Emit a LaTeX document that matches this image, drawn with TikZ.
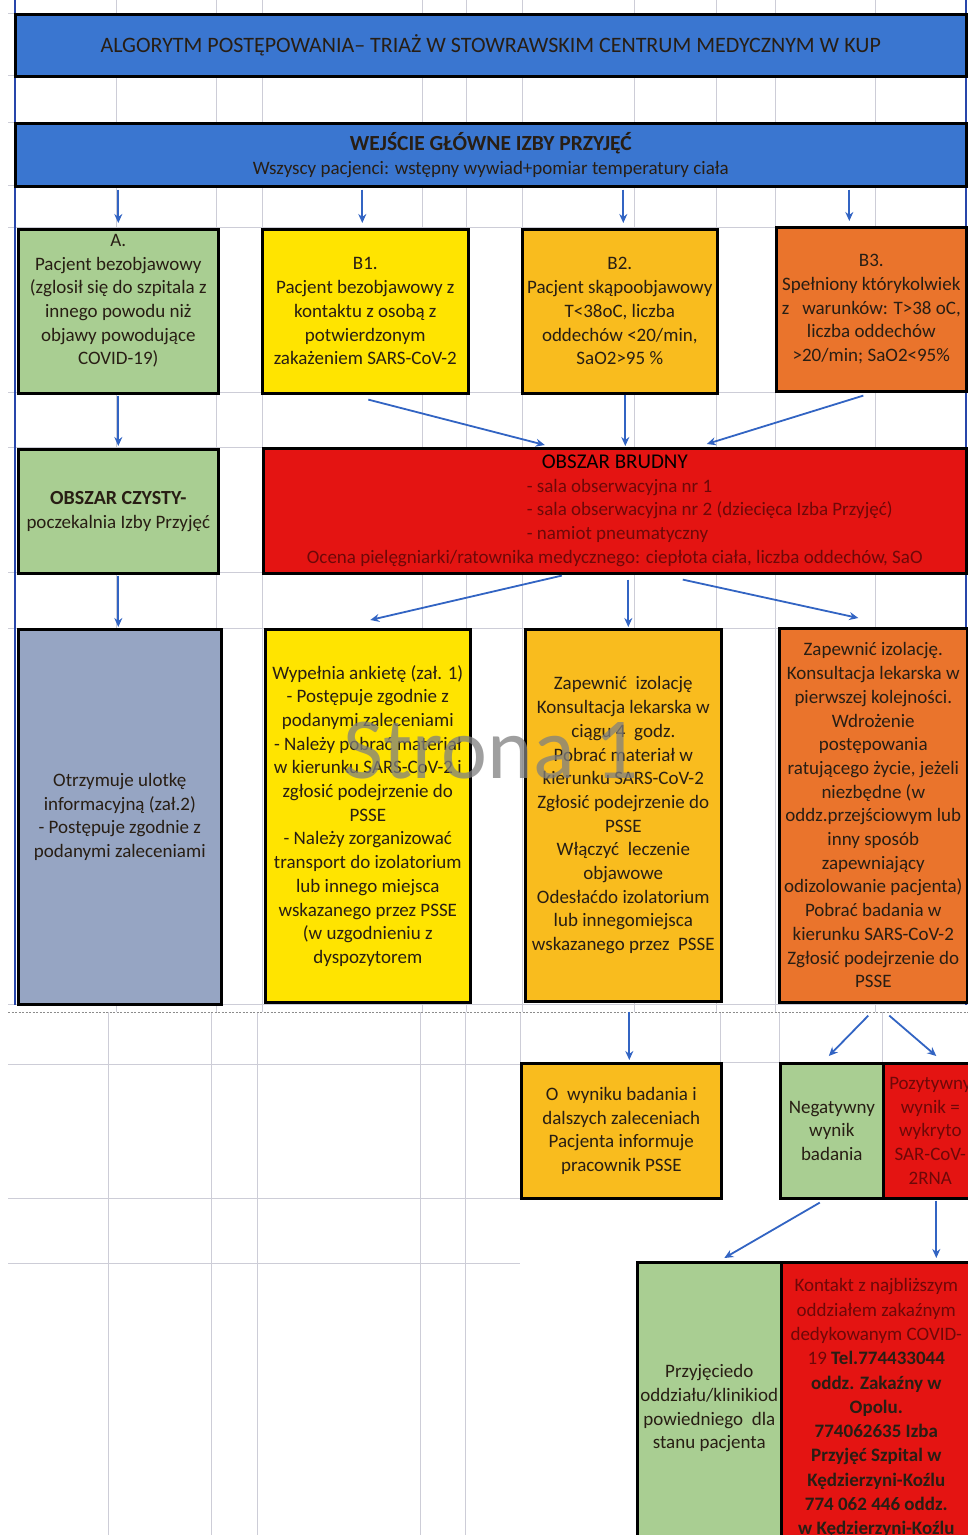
\documentclass[tikz,border=0pt]{standalone}
\usepackage{fontspec}
\setmainfont{Carlito}
\usetikzlibrary{arrows.meta,calc}
\definecolor{hdrblue}{RGB}{58,118,208}
\definecolor{grn}{RGB}{169,206,146}
\definecolor{yel}{RGB}{255,228,0}
\definecolor{amb}{RGB}{249,188,30}
\definecolor{org}{RGB}{234,116,44}
\definecolor{rd}{RGB}{228,20,18}
\definecolor{gry}{RGB}{150,165,195}
\definecolor{txtc}{RGB}{40,30,20}
\definecolor{drd}{RGB}{110,8,8}
\definecolor{arrblue}{RGB}{50,100,195}
\definecolor{gridc}{RGB}{205,205,215}
\definecolor{edgeblue}{RGB}{40,70,170}
\tikzset{
  box/.style={draw=black, line width=2.6pt, anchor=north west, inner sep=0pt,
    align=center, text=txtc, font=\fontsize{19}{23.7}\selectfont},
  arr/.style={-{Stealth[length=9pt,width=8pt]}, line width=1.8pt, draw=arrblue},
  gridl/.style={draw=gridc, line width=0.6pt},
  wmark/.style={font=\fontsize{87}{87}\selectfont, text=black!50, opacity=0.75, anchor=base}
}
\begin{document}
\begin{tikzpicture}[x=1pt,y=-1pt]
\useasboundingbox (0,0) rectangle (968,1535);
\clip (0,0) rectangle (968,1535);
\fill[white] (0,0) rectangle (968,1535);
% spreadsheet grid
\foreach \x in {116,216,262,422,466,522,634,716,775,875}
  \draw[gridl] (\x,0) -- (\x,1012);
\foreach \y in {13,75,122,185,227,392,447,572,628,1004}
  \draw[gridl] (8,\y) -- (968,\y);
\foreach \x in {108,211,257,420,465}
  \draw[gridl] (\x,1012) -- (\x,1535);
\draw[gridl] (520,1012) -- (520,1198);
\foreach \x in {720,779,882}
  \draw[gridl] (\x,1012) -- (\x,1062);
\foreach \y in {1064,1198,1263}
  \draw[gridl] (8,\y) -- (520,\y);
\draw[gridl] (720,1062) -- (779,1062);
\draw[draw=black!45, line width=0.8pt, dash pattern=on 2pt off 1.5pt] (8,1012) -- (968,1012);
\draw[edgeblue, line width=1.2pt] (15,0) -- (15,1005);
\draw[edgeblue, line width=1.2pt] (966,0) -- (966,1005);

% headers
\node[box, fill=hdrblue, minimum width=951pt, minimum height=62pt,
  font=\fontsize{22}{24}\selectfont] (title) at (14,13)
  {ALGORYTM POSTĘPOWANIA– TRIAŻ W STOWRAWSKIM CENTRUM MEDYCZNYM W KUP};
\node[box, fill=hdrblue, minimum width=951pt, minimum height=63pt, font=\fontsize{19}{24}\selectfont] (hdr) at (14,122)
  {{\bfseries\fontsize{21.5}{24}\selectfont WEJŚCIE GŁÓWNE IZBY PRZYJĘĆ}\\
   Wszyscy pacjenci: wstępny wywiad+pomiar temperatury ciała};

% first row
\node[box, fill=grn, minimum width=200pt, minimum height=164pt] (A) at (17,228)
  {A.\\Pacjent bezobjawowy\\(zglosił się do szpitala z\\innego powodu niż\\objawy powodujące\\COVID-19)\\\mbox{}};
\node[box, fill=yel, minimum width=206pt, minimum height=164pt] (B1) at (261,228)
  {B1.\\Pacjent bezobjawowy z\\kontaktu z osobą z\\potwierdzonym\\zakażeniem SARS-CoV-2};
\node[box, fill=amb, minimum width=195pt, minimum height=164pt] (B2) at (521,228)
  {B2.\\Pacjent skąpoobjawowy\\T<38oC, liczba\\oddechów <20/min,\\SaO2>95 \%};
\node[box, fill=org, minimum width=190pt, minimum height=164pt] (B3) at (775,226)
  {B3.\\Spełniony którykolwiek\\z\ \ \ warunków: T>38 oC,\\liczba oddechów\\>20/min; SaO2<95\%};

% second row
\node[box, fill=grn, minimum width=200pt, minimum height=124pt] (CZ) at (17,448)
  {{\bfseries\fontsize{20}{23.7}\selectfont OBSZAR CZYSTY-}\\poczekalnia Izby Przyjęć};
\node[box, fill=rd, minimum width=703pt, minimum height=125pt, text=drd] (BR) at (262,447)
  {{\fontsize{21}{23.7}\selectfont\color{black}OBSZAR BRUDNY}\\
   \makebox[176pt][l]{- sala obserwacyjna nr 1}\\
   \makebox[176pt][l]{- sala obserwacyjna nr 2 (dziecięca Izba Przyjęć)}\\
   \makebox[176pt][l]{- namiot pneumatyczny}\\
   Ocena pielęgniarki/ratownika medycznego: ciepłota ciała, liczba oddechów, SaO};

% third row
\node[box, fill=gry, minimum width=203pt, minimum height=375pt] (G) at (17,628)
  {Otrzymuje ulotkę\\informacyjną (zał.2)\\- Postępuje zgodnie z\\podanymi zaleceniami};
\node[box, fill=yel, minimum width=205pt, minimum height=373pt] (Y2) at (264,628)
  {Wypełnia ankietę (zał. 1)\\- Postępuje zgodnie z\\podanymi zaleceniami\\- Należy pobrać materiał\\w kierunku SARS-CoV-2 i\\zgłosić podejrzenie do\\PSSE\\- Należy zorganizować\\transport do izolatorium\\lub innego miejsca\\wskazanego przez PSSE\\(w uzgodnieniu z\\dyspozytorem};
\node[box, fill=amb, minimum width=196pt, minimum height=372pt] (AM2) at (524,628)
  {Zapewnić\ \ izolację\\Konsultacja lekarska w\\ciągu 4\ \ godz.\\Pobrać materiał w\\kierunku SARS-CoV-2\\Zgłosić podejrzenie do\\PSSE\\Włączyć\ \ leczenie\\objawowe\\Odesłaćdo izolatorium\\lub innegomiejsca\\wskazanego przez\ \ PSSE};
\node[box, fill=org, minimum width=188pt, minimum height=374pt] (OR2) at (778,627)
  {Zapewnić izolację.\\Konsultacja lekarska w\\pierwszej kolejności.\\Wdrożenie\\postępowania\\ratującego życie, jeżeli\\niezbędne (w\\oddz.przejściowym lub\\inny sposób\\zapewniający\\odizolowanie pacjenta)\\Pobrać badania w\\kierunku SARS-CoV-2\\Zgłosić podejrzenie do\\PSSE};

% fourth row
\node[box, fill=amb, minimum width=200pt, minimum height=135pt] (AM3) at (520,1062)
  {O\ \ wyniku badania i\\dalszych zaleceniach\\Pacjenta informuje\\pracownik PSSE};
\node[box, fill=grn, minimum width=103pt, minimum height=135pt] (NEG) at (779,1062)
  {Negatywny\\wynik\\badania};
\node[box, fill=rd, minimum width=94pt, minimum height=135pt, text=drd] (POZ) at (882,1062)
  {Pozytywny\\wynik =\\wykryto\\SAR-CoV-\\2RNA};

% fifth row
\node[box, fill=grn, minimum width=144pt, minimum height=292pt] (GR3) at (636,1261)
  {Przyjęciedo\\oddziału/klinikiod\\powiedniego\ \ dla\\stanu pacjenta};
\node[box, fill=rd, minimum width=190pt, minimum height=292pt, text=drd,
  font=\fontsize{19}{24.3}\selectfont] (RD3) at (780,1261)
  {Kontakt z najbliższym\\oddziałem zakaźnym\\dedykowanym COVID-\\19 {\bfseries\color{txtc}Tel.774433044}\\
   {\bfseries\color{txtc}oddz. Zakaźny w}\\{\bfseries\color{txtc}Opolu.}\\{\bfseries\color{txtc}774062635 Izba}\\
   {\bfseries\color{txtc}Przyjęć Szpital w}\\{\bfseries\color{txtc}Kędzierzyni-Koźlu}\\{\bfseries\color{txtc}774 062 446 oddz.}\\
   {\bfseries\color{txtc}w Kędzierzyni-Koźlu}};

% connectors
\draw[arr, shorten <=2pt, shorten >=5pt] (A.north |- hdr.south) -- (A.north);
\draw[arr, shorten <=2pt, shorten >=5pt] ([xshift=-3pt]B1.north |- hdr.south) -- ([xshift=-3pt]B1.north);
\draw[arr, shorten <=2pt, shorten >=5pt] ([xshift=3.5pt]B2.north |- hdr.south) -- ([xshift=3.5pt]B2.north);
\draw[arr, shorten <=2pt, shorten >=5pt] ([xshift=-22pt]B3.north |- hdr.south) -- ([xshift=-22pt]B3.north);
\draw[arr, shorten <=1pt, shorten >=2pt] (A.south) -- (A.south |- CZ.north);
\draw[arr] ($(B1.south)+(3,5)$) -- ($(BR.north)+(-70,-2)$);
\draw[arr, shorten >=1pt] ([xshift=5.5pt]B2.south) -- ([xshift=5.5pt]B2.south |- BR.north);
\draw[arr] ($(B3.south)+(-8,3)$) -- ($(BR.north)+(92,-3)$);
\draw[arr, shorten <=1pt, shorten >=1pt] (CZ.south) -- (CZ.south |- G.north);
\draw[arr] ($(BR.south)+(-53,1)$) -- ($(Y2.north)+(2.5,-8)$);
\draw[arr, shorten <=5pt, shorten >=1pt] ([xshift=5pt]AM2.north |- BR.south) -- ([xshift=5pt]AM2.north);
\draw[arr] ($(BR.south)+(68,5)$) -- ($(OR2.north)+(-15,-9)$);
\draw[arr, shorten <=9pt, shorten >=2pt] ([xshift=6pt]AM2.south) -- ([xshift=6pt]AM2.south |- AM3.north);
\draw[arr] ($(OR2.south)+(-5,12)$) -- ($(NEG.north)+(-3,-6)$);
\draw[arr] ($(OR2.south)+(16,12)$) -- ($(POZ.north)+(6,-6)$);
\draw[arr] ($(NEG.south)+(-12,3)$) -- ($(GR3.north)+(15,-3)$);
\draw[arr, shorten <=1pt, shorten >=3pt] ([xshift=6pt]POZ.south) -- ([xshift=6pt]POZ.south |- RD3.north);

% watermark
\node[wmark] (wm) at (491,778) {Strona 1};
\end{tikzpicture}
\end{document}
